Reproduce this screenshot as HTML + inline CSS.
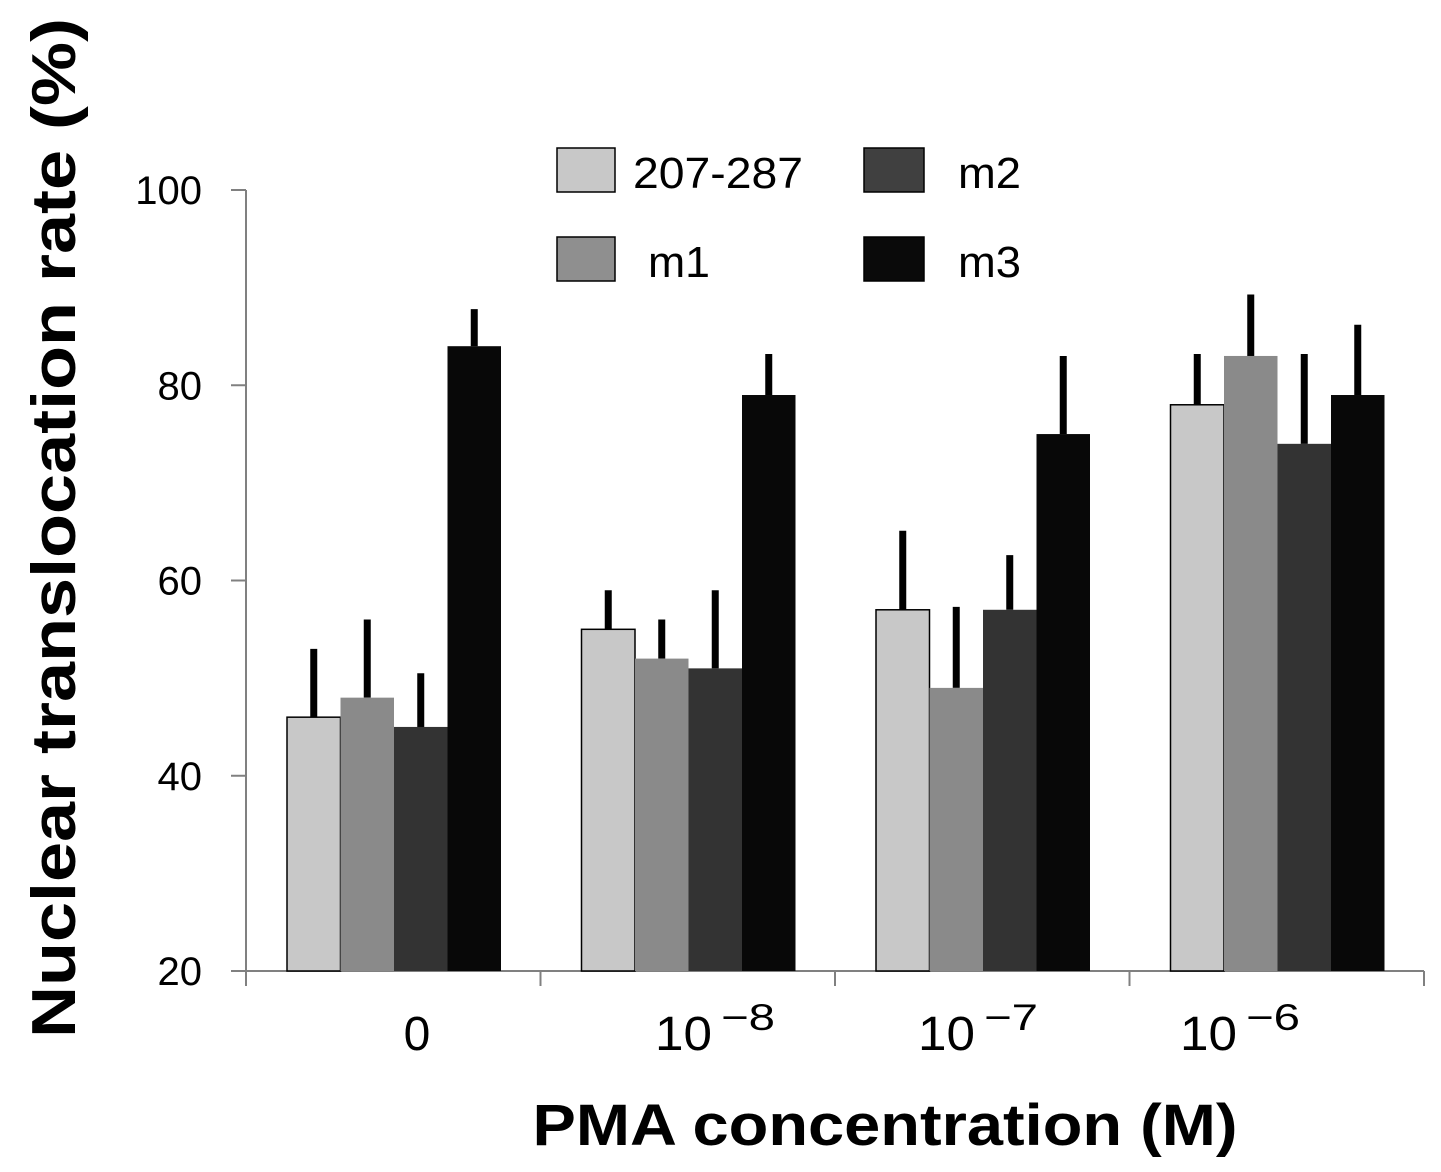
<!DOCTYPE html>
<html><head><meta charset="utf-8"><style>
html,body{margin:0;padding:0;background:#fff;}
svg{display:block;}
text{font-family:"Liberation Sans",sans-serif;}
</style></head><body>
<svg id="chart" width="1441" height="1172" viewBox="0 0 1441 1172">
<g id="axes"></g>
<g id="bars"></g>
<g>
 <rect x="557" y="148" width="58" height="44" fill="#c8c8c8" stroke="#000" stroke-width="1.5"/>
 <text x="633" y="188" font-size="44" textLength="170" lengthAdjust="spacingAndGlyphs">207-287</text>
 <rect x="864" y="148" width="60" height="44" fill="#404040" stroke="#000" stroke-width="1.5"/>
 <text x="958" y="188" font-size="44" textLength="63" lengthAdjust="spacingAndGlyphs">m2</text>
 <rect x="557" y="237" width="58" height="44" fill="#8f8f8f" stroke="#000" stroke-width="1.5"/>
 <text x="648" y="277" font-size="44" textLength="62" lengthAdjust="spacingAndGlyphs">m1</text>
 <rect x="864" y="237" width="60" height="44" fill="#0a0a0a" stroke="#000" stroke-width="1.5"/>
 <text x="958" y="277" font-size="44" textLength="63" lengthAdjust="spacingAndGlyphs">m3</text>
</g>
<text transform="translate(75,528) rotate(-90)" text-anchor="middle" font-size="62" font-weight="bold" textLength="1020" lengthAdjust="spacingAndGlyphs">Nuclear translocation rate (%)</text>
<text x="885" y="1145" text-anchor="middle" font-size="58" font-weight="bold" textLength="705" lengthAdjust="spacingAndGlyphs">PMA concentration (M)</text>
</svg>
<script>
const categories = ["0", "10", "10", "10"];
const catExp = ["", "−8", "−7", "−6"];
const seriesNames = ["207-287", "m1", "m2", "m3"];
const s207 = [46, 55, 57, 78];
const sM1 = [48, 52, 49, 83];
const sM2 = [45, 51, 57, 74];
const sM3 = [84, 79, 75, 79];
const e207 = [53, 59, 65.1, 83.2];
const eM1 = [56, 56, 57.3, 89.3];
const eM2 = [50.5, 59, 62.6, 83.2];
const eM3 = [87.8, 83.2, 83, 86.2];
const yTicks = [20, 40, 60, 80, 100];

const NS = "http://www.w3.org/2000/svg";
const x0 = 246, x1 = 1424, yMin = 20, yMax = 100, py0 = 971, py1 = 190;
const y = v => py0 - (v - yMin) / (yMax - yMin) * (py0 - py1);
const gw = (x1 - x0) / categories.length;
const barW = 53.5, groupOff = 41;
const xBar = (g, s) => x0 + g * gw + groupOff + s * barW;
const colors = ["#c8c8c8", "#8a8a8a", "#333333", "#080808"];
const values = [s207, sM1, sM2, sM3];
const errs = [e207, eM1, eM2, eM3];
const labelOffsets = [147, 114, 82, 49];

function mk(tag, attrs, parent) {
  const el = document.createElementNS(NS, tag);
  for (const k in attrs) el.setAttribute(k, attrs[k]);
  parent.appendChild(el);
  return el;
}
const axes = document.getElementById("axes");
const bars = document.getElementById("bars");

let l = mk("line", {x1: x0, y1: py1, x2: x0, y2: py0, stroke: "#808080", "stroke-width": 2}, axes);


l = mk("line", {x1: x0, y1: py0, x2: x1, y2: py0, stroke: "#808080", "stroke-width": 2}, axes);



yTicks.forEach(t => {
  const tk = mk("line", {x1: x0 - 15, y1: y(t), x2: x0, y2: y(t), stroke: "#808080", "stroke-width": 2}, axes);
  
  
  const tx = mk("text", {x: 202, y: y(t) + 14, "text-anchor": "end", "font-size": 40}, axes);
  tx.textContent = t;
  
  
});
for (let i = 0; i <= categories.length; i++) {
  const tk = mk("line", {x1: x0 + i * gw, y1: py0, x2: x0 + i * gw, y2: py0 + 15, stroke: "#808080", "stroke-width": 2}, axes);
  
  
}
categories.forEach((c, g) => {
  const gx = x0 + g * gw;
  if (!catExp[g]) {
    const tx = mk("text", {x: gx + 171, y: 1050, "text-anchor": "middle", "font-size": 48}, axes);
    tx.textContent = c;
    
    
    return;
  }
  const sx = gx + 409 - labelOffsets[g] * 0 - [0, 300, 213, 246][g] * 0;
  const startX = [0, 655, 918, 1180][g];
  const tx = mk("text", {x: startX, y: 1050, "font-size": 48, textLength: 57, lengthAdjust: "spacingAndGlyphs"}, axes);
  tx.textContent = c;
  
  
  const ex = mk("text", {x: startX + 66, y: 1030, "font-size": 37, textLength: 54, lengthAdjust: "spacingAndGlyphs"}, axes);
  ex.textContent = catExp[g];
  
  
});

values.forEach((arr, s) => {
  arr.forEach((v, g) => {
    const bx = xBar(g, s);
    const e = mk("line", {x1: bx + barW / 2, y1: y(errs[s][g]), x2: bx + barW / 2, y2: y(v), stroke: "#000", "stroke-width": 7}, bars);
    
    
    const r = mk("rect", {x: bx, y: y(v), width: barW, height: py0 - y(v), fill: colors[s], stroke: s === 0 ? "#000" : "none", "stroke-width": 1.5}, bars);
    
    
  });
});
</script>
</body></html>
